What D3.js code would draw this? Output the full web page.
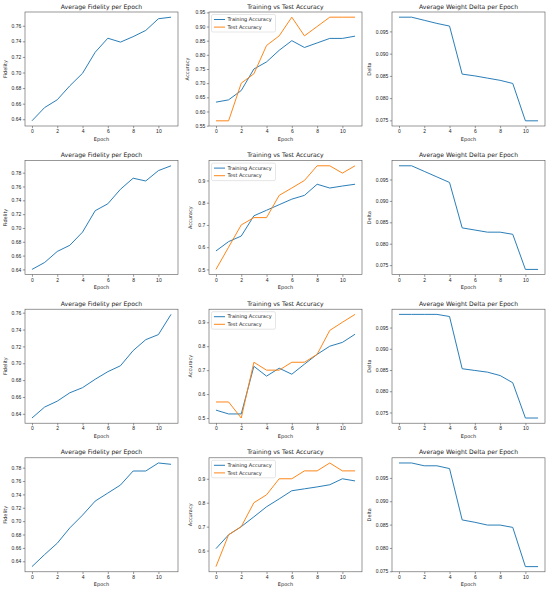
<!DOCTYPE html>
<html>
<head>
<meta charset="utf-8">
<script src="https://cdn.jsdelivr.net/npm/d3@7"></script>
<style>
  html, body { margin: 0; padding: 0; background: #fff; }
  svg { display: block; font-family: "DejaVu Sans", sans-serif; }
  .tick text { fill: #222; }
</style>
</head>
<body>
<div id="chart"></div>
<script>
const epochs = [0, 1, 2, 3, 4, 5, 6, 7, 8, 9, 10, 11];
const epochTicks = ["0", "2", "4", "6", "8", "10"];

// average fidelity, one array per run (row)
const fidelity1 = [0.638, 0.655, 0.665, 0.683, 0.699, 0.726, 0.744, 0.739, 0.746, 0.754, 0.769, 0.771];
const fidelity2 = [0.640, 0.650, 0.666, 0.675, 0.694, 0.725, 0.735, 0.756, 0.772, 0.768, 0.783, 0.790];
const fidelity3 = [0.635, 0.648, 0.655, 0.665, 0.671, 0.681, 0.690, 0.697, 0.715, 0.728, 0.734, 0.758];
const fidelity4 = [0.632, 0.650, 0.667, 0.690, 0.709, 0.730, 0.742, 0.754, 0.775, 0.775, 0.787, 0.785];

const trainAcc1 = [0.633, 0.641, 0.674, 0.750, 0.775, 0.816, 0.850, 0.826, 0.842, 0.858, 0.858, 0.866];
const testAcc1  = [0.567, 0.567, 0.700, 0.733, 0.833, 0.867, 0.933, 0.867, 0.900, 0.933, 0.933, 0.933];
const trainAcc2 = [0.583, 0.625, 0.650, 0.741, 0.766, 0.791, 0.816, 0.833, 0.883, 0.866, 0.875, 0.883];
const testAcc2  = [0.500, 0.600, 0.700, 0.733, 0.733, 0.833, 0.866, 0.900, 0.966, 0.966, 0.933, 0.966];
const trainAcc3 = [0.533, 0.517, 0.517, 0.716, 0.675, 0.708, 0.683, 0.725, 0.766, 0.800, 0.816, 0.850];
const testAcc3  = [0.567, 0.567, 0.500, 0.733, 0.700, 0.700, 0.733, 0.733, 0.766, 0.866, 0.900, 0.933];
const trainAcc4 = [0.608, 0.666, 0.700, 0.741, 0.783, 0.816, 0.850, 0.858, 0.866, 0.875, 0.900, 0.891];
const testAcc4  = [0.533, 0.666, 0.700, 0.800, 0.833, 0.900, 0.900, 0.933, 0.933, 0.966, 0.933, 0.933];

const delta1 = [0.0982, 0.0982, 0.0975, 0.0968, 0.0962, 0.0854, 0.0850, 0.0845, 0.0840, 0.0833, 0.0749, 0.0749];
const delta2 = [0.0982, 0.0982, 0.0969, 0.0956, 0.0943, 0.0837, 0.0832, 0.0827, 0.0827, 0.0822, 0.0740, 0.0740];
const delta3 = [0.0981, 0.0981, 0.0981, 0.0981, 0.0976, 0.0853, 0.0849, 0.0845, 0.0837, 0.0820, 0.0737, 0.0737];
const delta4 = [0.0982, 0.0982, 0.0976, 0.0976, 0.0970, 0.0860, 0.0855, 0.0849, 0.0849, 0.0844, 0.0760, 0.0760];

// y tick labels per subplot
const fidTicks1 = ["0.64", "0.66", "0.68", "0.70", "0.72", "0.74", "0.76"];
const fidTicks2 = ["0.64", "0.66", "0.68", "0.70", "0.72", "0.74", "0.76", "0.78"];
const fidTicks3 = ["0.64", "0.66", "0.68", "0.70", "0.72", "0.74", "0.76"];
const fidTicks4 = ["0.64", "0.66", "0.68", "0.70", "0.72", "0.74", "0.76", "0.78"];
const accTicks1 = ["0.55", "0.60", "0.65", "0.70", "0.75", "0.80", "0.85", "0.90", "0.95"];
const accTicks2 = ["0.5", "0.6", "0.7", "0.8", "0.9"];
const accTicks3 = ["0.5", "0.6", "0.7", "0.8", "0.9"];
const accTicks4 = ["0.6", "0.7", "0.8", "0.9"];
const deltaTicks = ["0.075", "0.080", "0.085", "0.090", "0.095"];

const blue = "#1f77b4", orange = "#ff7f0e";

const runs = [
  { fid: fidelity1, fidT: fidTicks1, train: trainAcc1, test: testAcc1, accT: accTicks1, delta: delta1 },
  { fid: fidelity2, fidT: fidTicks2, train: trainAcc2, test: testAcc2, accT: accTicks2, delta: delta2 },
  { fid: fidelity3, fidT: fidTicks3, train: trainAcc3, test: testAcc3, accT: accTicks3, delta: delta3 },
  { fid: fidelity4, fidT: fidTicks4, train: trainAcc4, test: testAcc4, accT: accTicks4, delta: delta4 }
];

const W = 550, H = 591;
const colLeft = [25, 209, 392], axW = 153, axH = 114;
const rowTop = 12, rowStep = 148.6;

const svg = d3.select("#chart").append("svg")
    .attr("width", W)
    .attr("height", H);

// matplotlib style 5% padding around data
function padded(values) {
  const [lo, hi] = d3.extent(values);
  const m = (hi - lo) * 0.05;
  return [lo - m, hi + m];
}

function panel(g, opts) {
  const x = d3.scaleLinear().domain([-0.55, 11.55]).range([0, axW]);
  const y = d3.scaleLinear().domain(padded(opts.series.flatMap(s => s.values))).range([axH, 0]);

  const xAxis = g.append("g")
      .attr("transform", "translate(0," + axH + ")")
      .call(d3.axisBottom(x).tickValues(epochTicks.map(Number)).tickFormat((d, i) => epochTicks[i])
        .tickSize(2.2).tickPadding(1.5));
  const yAxis = g.append("g")
      .call(d3.axisLeft(y).tickValues(opts.ticks.map(Number)).tickFormat((d, i) => opts.ticks[i])
        .tickSize(2.2).tickPadding(1.5));
  [xAxis, yAxis].forEach(a => {
    a.select(".domain").remove();
    a.selectAll(".tick line").attr("stroke", "#333").attr("stroke-width", 0.5);
    a.selectAll(".tick text").style("font-size", "5px");
  });

  const line = d3.line().x((d, i) => x(epochs[i])).y(d => y(d));
  opts.series.forEach(s => {
    g.append("path")
      .datum(s.values)
      .attr("fill", "none")
      .attr("stroke", s.color)
      .attr("stroke-width", 0.95)
      .attr("d", line);
  });

  // frame
  g.append("rect")
    .attr("width", axW).attr("height", axH)
    .attr("fill", "none").attr("stroke", "#555").attr("stroke-width", 0.6);

  g.append("text")
    .attr("x", axW / 2).attr("y", -3.5)
    .attr("text-anchor", "middle")
    .style("font-size", "6.1px").attr("fill", "#222")
    .text(opts.title);

  g.append("text")
    .attr("x", axW / 2).attr("y", axH + 14.5)
    .attr("text-anchor", "middle")
    .style("font-size", "5px").attr("fill", "#222")
    .text("Epoch");

  g.append("text")
    .attr("transform", "translate(" + (-opts.ylabOff) + "," + (axH / 2) + ") rotate(-90)")
    .attr("text-anchor", "middle")
    .style("font-size", "5px").attr("fill", "#222")
    .text(opts.ylabel);

  if (opts.legend) {
    const lg = g.append("g").attr("transform", "translate(2.5,2.5)");
    lg.append("rect")
      .attr("width", 64).attr("height", 17.5).attr("rx", 1.5)
      .attr("fill", "#fff").attr("fill-opacity", 0.8)
      .attr("stroke", "#ccc").attr("stroke-width", 0.5);
    opts.series.forEach((s, i) => {
      const ly = 5 + i * 7.6;
      lg.append("line")
        .attr("x1", 2.5).attr("x2", 13.5).attr("y1", ly).attr("y2", ly)
        .attr("stroke", s.color).attr("stroke-width", 0.95);
      lg.append("text")
        .attr("x", 16).attr("y", ly + 1.8)
        .style("font-size", "5px").attr("fill", "#222")
        .text(s.name);
    });
  }
}

runs.forEach((r, i) => {
  const top = rowTop + i * rowStep;
  panel(svg.append("g").attr("transform", "translate(" + colLeft[0] + "," + top + ")"), {
    title: "Average Fidelity per Epoch", ylabel: "Fidelity", ylabOff: 18.5,
    ticks: r.fidT, series: [{ values: r.fid, color: blue }]
  });
  panel(svg.append("g").attr("transform", "translate(" + colLeft[1] + "," + top + ")"), {
    title: "Training vs Test Accuracy", ylabel: "Accuracy", ylabOff: 18.5 + (r.accT[0].length > 3 ? 1.5 : -1.5),
    ticks: r.accT, legend: true,
    series: [
      { values: r.train, color: blue, name: "Training Accuracy" },
      { values: r.test, color: orange, name: "Test Accuracy" }
    ]
  });
  panel(svg.append("g").attr("transform", "translate(" + colLeft[2] + "," + top + ")"), {
    title: "Average Weight Delta per Epoch", ylabel: "Delta", ylabOff: 21,
    ticks: deltaTicks, series: [{ values: r.delta, color: blue }]
  });
});
</script>
</body>
</html>
